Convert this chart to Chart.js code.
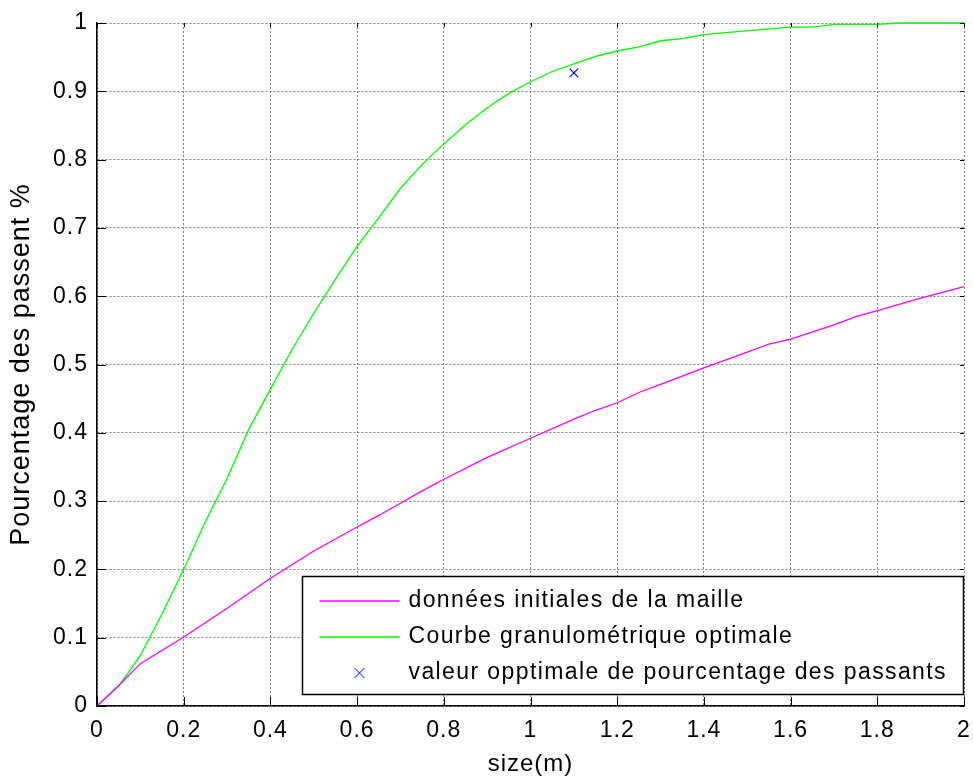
<!DOCTYPE html>
<html>
<head>
<meta charset="utf-8">
<script src="https://cdn.jsdelivr.net/npm/chart.js@4/dist/chart.umd.min.js"></script>
<style>
  body { margin: 0; background: #fff; }
  canvas { display: block; }
</style>
</head>
<body>
<canvas id="granuloChart" width="973" height="776"></canvas>
<script>
// courbe initiale (magenta)
const sizeInitial = [0, 0.05, 0.1, 0.2, 0.3, 0.4, 0.5, 0.6, 0.65, 0.75, 0.8, 0.9, 1.0, 1.1, 1.15, 1.2, 1.25, 1.3, 1.4, 1.5, 1.55, 1.6, 1.7, 1.75, 1.8, 1.9, 2.0];
const passInitial = [0, 0.03, 0.062, 0.101, 0.143, 0.187, 0.227, 0.262, 0.279, 0.315, 0.332, 0.364, 0.392, 0.42, 0.433, 0.444, 0.459, 0.471, 0.495, 0.518, 0.53, 0.537, 0.558, 0.57, 0.579, 0.597, 0.614];

// courbe granulometrique optimale (vert)
const sizeOptimal = [0, 0.05, 0.1, 0.15, 0.2, 0.25, 0.3, 0.35, 0.4, 0.45, 0.5, 0.55, 0.6, 0.65, 0.7, 0.75, 0.8, 0.85, 0.9, 0.95, 1.0, 1.05, 1.1, 1.15, 1.2, 1.25, 1.3, 1.35, 1.4, 1.47, 1.6, 1.65, 1.7, 1.8, 1.85, 2.0];
const passOptimal = [0, 0.029, 0.074, 0.135, 0.2, 0.27, 0.333, 0.405, 0.464, 0.522, 0.575, 0.625, 0.673, 0.715, 0.758, 0.793, 0.823, 0.851, 0.876, 0.897, 0.914, 0.929, 0.94, 0.951, 0.959, 0.965, 0.974, 0.977, 0.983, 0.987, 0.994, 0.994, 0.998, 0.998, 1.0, 1.0];

// valeur optimale (croix bleue)
const optimalSize = [1.1];
const optimalPass = [0.927];

const xTickValues = [0, 0.2, 0.4, 0.6, 0.8, 1, 1.2, 1.4, 1.6, 1.8, 2];
const yTickValues = [0, 0.1, 0.2, 0.3, 0.4, 0.5, 0.6, 0.7, 0.8, 0.9, 1];

const labels = [
    "données initiales de la maille",
    "Courbe granulométrique optimale",
    "valeur opptimale de pourcentage des passants"
];

const FONT = "'Liberation Sans', Arial, Helvetica, sans-serif";

function toPoints(xs, ys) {
    return xs.map((x, i) => ({ x: x, y: ys[i] }));
}

// texte un peu plus large, comme le rendu matlab
const spacingPlugin = {
    id: "spacing",
    beforeDraw(chart) {
        chart.ctx.letterSpacing = "1px";
    }
};

// petites graduations vers l'interieur
const innerTicks = {
    id: "innerTicks",
    afterDraw(chart) {
        const { ctx, chartArea, scales } = chart;
        ctx.save();
        ctx.strokeStyle = "#000";
        ctx.lineWidth = 1;
        ctx.beginPath();
        xTickValues.forEach(v => {
            const px = Math.round(scales.x.getPixelForValue(v)) + 0.5;
            ctx.moveTo(px, chartArea.bottom);
            ctx.lineTo(px, chartArea.bottom - 9);
            ctx.moveTo(px, chartArea.top);
            ctx.lineTo(px, chartArea.top + 4);
        });
        yTickValues.forEach(v => {
            const py = Math.round(scales.y.getPixelForValue(v)) + 0.5;
            ctx.moveTo(chartArea.left, py);
            ctx.lineTo(chartArea.left + 9, py);
            ctx.moveTo(chartArea.right, py);
            ctx.lineTo(chartArea.right - 4, py);
        });
        ctx.stroke();
        ctx.restore();
    }
};

// legende dans le coin bas droit
const boxLegend = {
    id: "boxLegend",
    afterDraw(chart) {
        const { ctx, chartArea } = chart;
        const datasets = chart.data.datasets;
        ctx.save();
        ctx.font = "23px " + FONT;
        ctx.letterSpacing = "1.4px";
        let maxW = 0;
        datasets.forEach(ds => {
            maxW = Math.max(maxW, ctx.measureText(ds.label).width);
        });
        const rowH = 36;
        const width = 106 + maxW + 16;
        const height = datasets.length * rowH + 10;
        const right = chartArea.right - 1;
        const bottom = chartArea.bottom - 12;
        const left = right - width;
        const top = bottom - height;

        ctx.fillStyle = "#fff";
        ctx.fillRect(left, top, width, height);
        ctx.strokeStyle = "#000";
        ctx.lineWidth = 1.5;
        ctx.strokeRect(Math.round(left) + 0.5, Math.round(top) + 0.5, Math.round(width), Math.round(height));

        datasets.forEach((ds, i) => {
            const cy = top + 25 + i * rowH;
            if (ds.showLine === false) {
                const cx = left + 57;
                const r = 5;
                ctx.strokeStyle = ds.borderColor;
                ctx.lineWidth = 1;
                ctx.beginPath();
                ctx.moveTo(cx - r, cy - r);
                ctx.lineTo(cx + r, cy + r);
                ctx.moveTo(cx + r, cy - r);
                ctx.lineTo(cx - r, cy + r);
                ctx.stroke();
            } else {
                ctx.strokeStyle = ds.borderColor;
                ctx.lineWidth = 1.3;
                ctx.beginPath();
                ctx.moveTo(left + 17, cy);
                ctx.lineTo(left + 97, cy);
                ctx.stroke();
            }
            ctx.fillStyle = "#000";
            ctx.textBaseline = "middle";
            ctx.textAlign = "left";
            ctx.fillText(ds.label, left + 106, cy);
        });
        ctx.restore();
    }
};

const ctx = document.getElementById("granuloChart").getContext("2d");

new Chart(ctx, {
    type: "line",
    data: {
        datasets: [
            {
                label: labels[0],
                data: toPoints(sizeInitial, passInitial),
                borderColor: "#ff00ff",
                borderWidth: 1.3,
                pointRadius: 0,
                tension: 0,
                clip: false
            },
            {
                label: labels[1],
                data: toPoints(sizeOptimal, passOptimal),
                borderColor: "#00ff00",
                borderWidth: 1.3,
                pointRadius: 0,
                tension: 0,
                clip: false
            },
            {
                label: labels[2],
                data: toPoints(optimalSize, optimalPass),
                showLine: false,
                borderColor: "#0000ff",
                backgroundColor: "#0000ff",
                pointStyle: "crossRot",
                pointRadius: 6,
                pointBorderWidth: 1.2,
                clip: false
            }
        ]
    },
    options: {
        responsive: false,
        devicePixelRatio: 1,
        animation: false,
        layout: {
            padding: { top: 23, right: 0, left: 0, bottom: 0 }
        },
        plugins: {
            legend: { display: false },
            tooltip: { enabled: false }
        },
        scales: {
            x: {
                type: "linear",
                min: 0,
                max: 2,
                afterBuildTicks: scale => {
                    scale.ticks = xTickValues.map(v => ({ value: v }));
                },
                afterFit: scale => {
                    scale.height = 70;
                    scale.paddingLeft = 0;
                    scale.paddingRight = 9;
                },
                ticks: {
                    color: "#000",
                    padding: 11,
                    maxRotation: 0,
                    font: { family: FONT, size: 23 },
                    callback: v => String(v)
                },
                grid: {
                    color: "#808080",
                    lineWidth: 1,
                    drawTicks: false
                },
                border: { display: true, color: "#000", width: 1.5, dash: [2, 2] },
                title: {
                    display: true,
                    text: "size(m)",
                    color: "#000",
                    font: { family: FONT, size: 24 },
                    padding: { top: 0, bottom: -3 }
                }
            },
            y: {
                min: 0,
                max: 1,
                afterBuildTicks: scale => {
                    scale.ticks = yTickValues.map(v => ({ value: v }));
                },
                afterFit: scale => {
                    scale.width = 97;
                },
                ticks: {
                    color: "#000",
                    padding: 9,
                    font: { family: FONT, size: 23 },
                    callback: v => String(v)
                },
                grid: {
                    color: "#808080",
                    lineWidth: 1,
                    drawTicks: false
                },
                border: { display: true, color: "#000", width: 1.5, dash: [2, 2] },
                title: {
                    display: true,
                    text: "Pourcentage des passent %",
                    color: "#000",
                    font: { family: FONT, size: 27 },
                    padding: { top: 5, bottom: 0 }
                }
            }
        }
    },
    plugins: [spacingPlugin, innerTicks, boxLegend]
});
</script>
</body>
</html>
